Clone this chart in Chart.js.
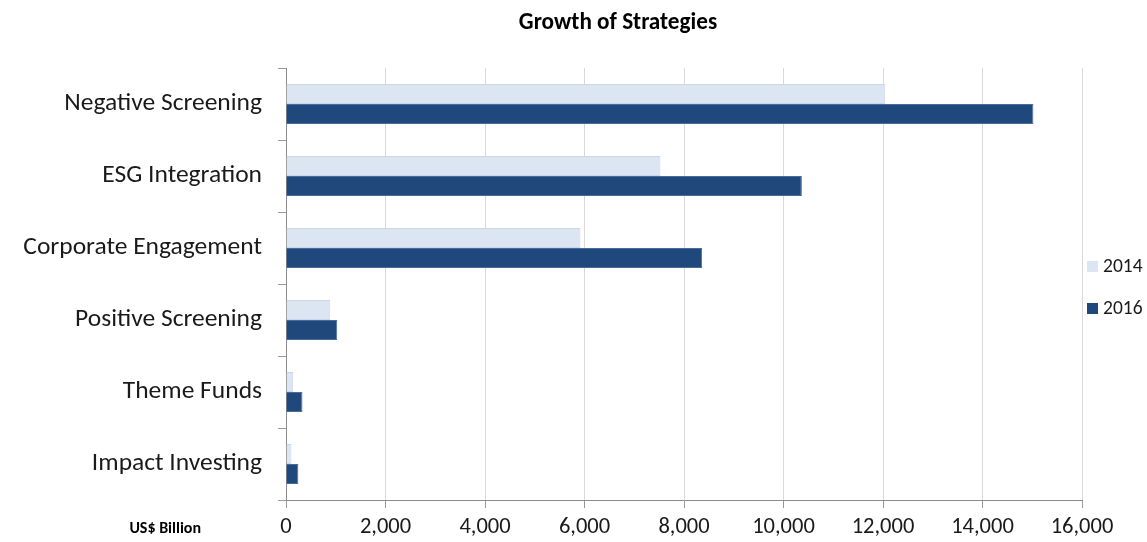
<!DOCTYPE html>
<html>
<head>
<meta charset="utf-8">
<title>Growth of Strategies</title>
<script src="https://cdn.jsdelivr.net/npm/chart.js@4"></script>
<style>
  html, body { margin: 0; padding: 0; background: #fff; }
  #wrap { position: relative; width: 1147px; height: 542px; }
</style>
</head>
<body>
<div id="wrap"><canvas id="myChart" width="1147" height="542"></canvas></div>
<script>
const FONT = 'Carlito, "Open Sans", sans-serif';

const strategies = [
  'Negative Screening',
  'ESG Integration',
  'Corporate Engagement',
  'Positive Screening',
  'Theme Funds',
  'Impact Investing',
];
const years = ['2014', '2016'];
const assets2014 = [12046, 7527, 5919, 890, 145, 109];
const assets2016 = [15023, 10369, 8365, 1030, 331, 248];
const xTicks = [0, 2000, 4000, 6000, 8000, 10000, 12000, 14000, 16000];

const fills = ['#dce6f2', '#1f497d'];
const edges = ['#c9d7ea', '#4a6c98'];

// title, unit label and the side legend are painted by hand
const extras = {
  id: 'extras',
  afterDraw(chart) {
    const c = chart.ctx;
    const area = chart.chartArea;
    c.save();
    c.fillStyle = '#000';
    c.textBaseline = 'middle';

    c.font = 'bold 23.2px ' + FONT;
    c.textAlign = 'center';
    c.fillText('Growth of Strategies', 618, 23);

    c.font = 'bold 16px ' + FONT;
    c.textAlign = 'right';
    c.fillText('US$ Billion', area.left - 85, area.bottom + 29);

    c.font = '19.5px ' + FONT;
    c.textAlign = 'left';
    const mid = (area.top + area.bottom) / 2;
    chart.data.datasets.forEach((ds, i) => {
      const y = mid - 18 + i * 42;
      c.fillStyle = ds.backgroundColor;
      c.fillRect(area.right + 5, y - 5, 11, 11);
      c.fillStyle = '#1a1a1a';
      c.fillText(ds.label, area.right + 21, y + 1);
    });
    c.restore();
  }
};

const ctx = document.getElementById('myChart').getContext('2d');
const myChart = new Chart(ctx, {
  type: 'bar',
  data: {
    labels: strategies,
    datasets: [
      { label: years[0], data: assets2014, backgroundColor: fills[0], borderColor: edges[0], borderWidth: 1 },
      { label: years[1], data: assets2016, backgroundColor: fills[1], borderColor: edges[1], borderWidth: 1 },
    ],
  },
  options: {
    indexAxis: 'y',
    responsive: false,
    animation: false,
    devicePixelRatio: 1,
    layout: { padding: { top: 68, right: 65, left: 0, bottom: 0 } },
    datasets: {
      bar: { categoryPercentage: 0.556, barPercentage: 1.0 },
    },
    scales: {
      x: {
        min: 0,
        max: 16000,
        afterBuildTicks(scale) {
          scale.ticks = xTicks.map(v => ({ value: v }));
        },
        afterFit(scale) { scale.height = 42; },
        border: { display: true, color: '#8c8c8c', width: 1 },
        grid: { color: '#d9d9d9', tickColor: '#9a9a9a', tickLength: 8, lineWidth: 1 },
        ticks: {
          color: '#1a1a1a',
          font: { family: FONT, size: 22.5 },
          padding: 6,
          maxRotation: 0,
          callback: v => v.toLocaleString('en-US'),
        },
      },
      y: {
        afterFit(scale) { scale.width = 286; },
        border: { display: true, color: '#8c8c8c', width: 1 },
        grid: { offset: true, drawOnChartArea: false, tickColor: '#9a9a9a', tickLength: 8 },
        ticks: {
          color: '#1a1a1a',
          font: { family: FONT, size: 25.5 },
          padding: 16,
        },
      },
    },
    plugins: {
      legend: { display: false },
      tooltip: { enabled: false },
    },
  },
  plugins: [extras],
});
</script>
</body>
</html>
